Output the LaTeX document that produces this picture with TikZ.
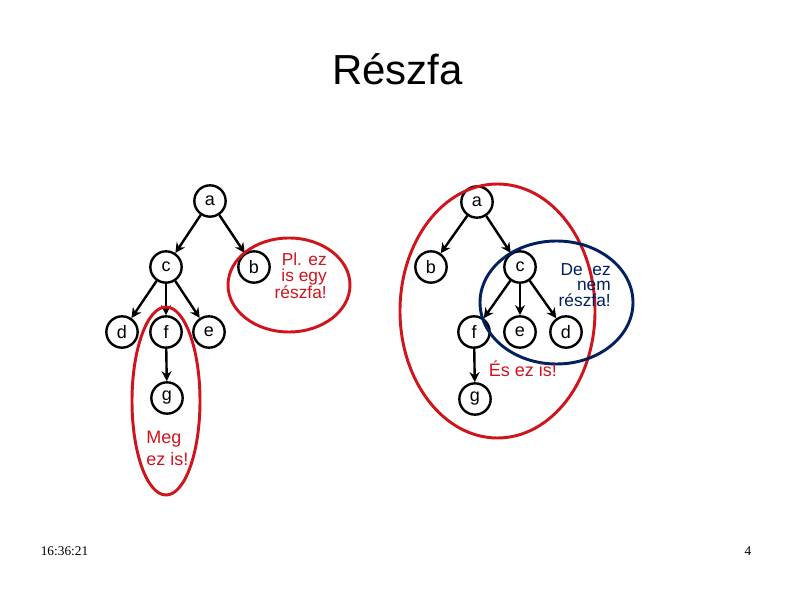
\documentclass[tikz,border=0pt]{standalone}
\usepackage{fontspec}
\setmainfont{Liberation Sans}
\newfontfamily\timesfont{Liberation Serif}
\usetikzlibrary{arrows.meta}
\definecolor{myred}{RGB}{208,20,28}
\definecolor{mynavy}{RGB}{0,32,96}
\begin{document}
\begin{tikzpicture}[x=0.75pt,y=-0.75pt,
  tnode/.style={circle,draw=black,line width=1.8pt,minimum size=23.5pt,inner sep=0pt,font=\fontsize{13.5}{16}\selectfont},
  tedge/.style={line width=1.8pt,-{Stealth[length=7.5pt,width=7.5pt]}},
  redring/.style={draw=myred,line width=2.2pt},
  bluering/.style={draw=mynavy,line width=2.2pt},
  note/.style={font=\fontsize{13}{11.6}\selectfont,inner sep=0pt}]
\path[use as bounding box,fill=white] (0,0) rectangle (794,595);
\node[font=\fontsize{31.5}{36}\selectfont] (title) at (397.5,69) {Részfa};
% left tree
\node[tnode] (la) at (210,201) {a};
\node[tnode] (lc) at (166,267) {c};
\node[tnode] (lb) at (254,267) {b};
\node[tnode] (ld) at (122,332) {d};
\node[tnode] (lf) at (166,332) {f};
\node[tnode] (le) at (209,332) {e};
\node[tnode] (lg) at (167,398) {g};
\draw[tedge] (la) -- (lc);
\draw[tedge] (la) -- (lb);
\draw[tedge] (lc) -- (ld);
\draw[tedge] (lc) -- (lf);
\draw[tedge] (lc) -- (le);
\draw[tedge] (lf) -- (lg);
% right tree
\node[tnode] (ra) at (477,202) {a};
\node[tnode] (rb) at (431,267) {b};
\node[tnode] (rc) at (520,267) {c};
\node[tnode] (rf) at (474,332) {f};
\node[tnode] (re) at (520,332) {e};
\node[tnode] (rd) at (566,332) {d};
\node[tnode] (rg) at (475,399) {g};
\draw[tedge] (ra) -- (rb);
\draw[tedge] (ra) -- (rc);
\draw[tedge] (rc) -- (rf);
\draw[tedge] (rc) -- (re);
\draw[tedge] (rc) -- (rd);
\draw[tedge] (rf) -- (rg);
% rings
\draw[redring] (289,285) ellipse [x radius=61,y radius=47];
\draw[redring] (166,401) ellipse [x radius=34,y radius=94];
\draw[redring] (497.5,311) ellipse [x radius=97.5,y radius=127];
\draw[bluering] (556.5,302.5) ellipse [x radius=76.5,y radius=61.5];
% notes
\node[note,text=myred,align=right,anchor=east] (n1) at (327,276) {Pl. ez\\is egy\\részfa!};
\node[note,text=myred,align=left,anchor=west,font=\fontsize{13.5}{16.5}\selectfont] (n2) at (146,448) {Meg\\ez is!};
\node[note,text=mynavy,align=right,anchor=east] (n3) at (611,285) {De~~ez\\nem\\részfa!};
\node[note,text=myred,font=\fontsize{13.5}{16}\selectfont] (n4) at (523,369) {És ez is!};
% footer
\node[font=\timesfont\fontsize{10}{12}\selectfont] (time) at (64.5,551) {16:36:21};
\node[font=\timesfont\fontsize{10}{12}\selectfont] (page) at (748,551) {4};
\end{tikzpicture}
\end{document}
